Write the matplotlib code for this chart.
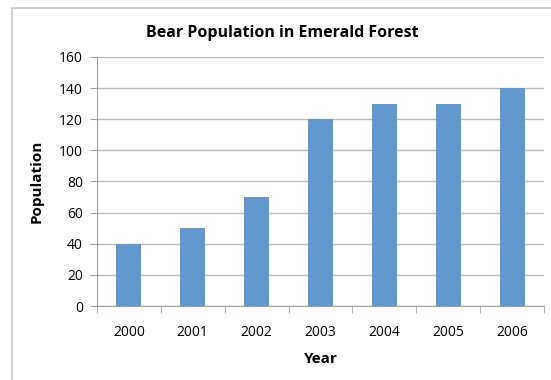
import matplotlib
matplotlib.use("Agg")
import matplotlib.pyplot as plt
from matplotlib.patches import Rectangle

# data
years = ["2000", "2001", "2002", "2003", "2004", "2005", "2006"]
population = [40, 50, 70, 120, 130, 130, 140]
yticks = [0, 20, 40, 60, 80, 100, 120, 140, 160]

W, H = 551, 380
fig = plt.figure(figsize=(W / 100, H / 100), dpi=100)
plt.rcParams['font.family'] = ['Open Sans', 'DejaVu Sans']

# outer chart border (runs off the right and bottom edges)
fig.patches.append(Rectangle((12 / W, -0.1), 1.1, (H - 8) / H + 0.1,
                             transform=fig.transFigure, fill=False,
                             edgecolor='#c8c8c8', linewidth=1.2))

# plot area in pixels: x 97..544, y 57..306
ax = fig.add_axes([97 / W, 1 - 306 / H, (544 - 97) / W, (306 - 57) / H])

x = range(len(years))
ax.bar(x, population, width=0.39, color='#6198cd', zorder=3)

ax.set_xlim(-0.5, len(years) - 0.5)
ax.set_ylim(0, 160)
ax.set_yticks(yticks)
ax.set_xticks(list(x))
ax.set_xticklabels(years, fontsize=10)
ax.set_xticks([i - 0.5 for i in range(len(years) + 1)], minor=True)
ax.tick_params(axis='x', which='major', length=0, pad=14)
ax.tick_params(axis='x', which='minor', length=5, color='#a0a0a0', direction='out')
ax.tick_params(axis='y', length=5, color='#a0a0a0', labelsize=10, pad=5)

ax.yaxis.grid(True, color='#bcbcbc', linewidth=1, zorder=0)
for s in ['top', 'right']:
    ax.spines[s].set_visible(False)
for s in ['left', 'bottom']:
    ax.spines[s].set_color('#a0a0a0')

# title sits left of the axes centre in the reference
fig.text(282 / W, 1 - 33 / H, "Bear Population in Emerald Forest",
         fontsize=11.5, fontweight='bold', ha='center', va='center')
ax.set_xlabel("Year", fontsize=11, fontweight='bold', labelpad=8)
ax.set_ylabel("Population", fontsize=11, fontweight='bold', labelpad=11)

fig.savefig("out.png", dpi=100)
